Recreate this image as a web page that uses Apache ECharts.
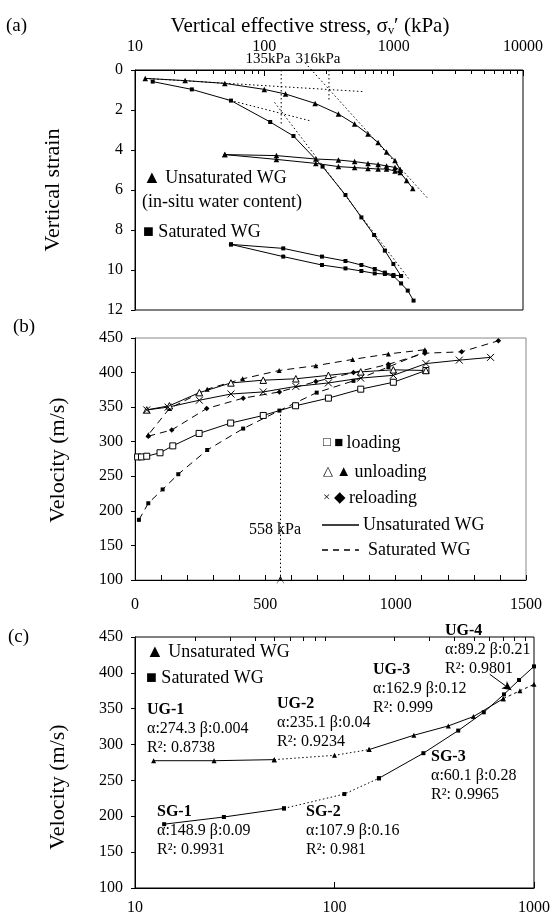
<!DOCTYPE html>
<html>
<head>
<meta charset="utf-8">
<script src="https://cdn.jsdelivr.net/npm/echarts@6/dist/echarts.min.js"></script>
<style>
html,body{margin:0;padding:0;background:#fff;}
#chart{width:557px;height:919px;}
</style>
</head>
<body>
<div id="chart"></div>
<script>
// ---------- (a) vertical strain vs effective stress ----------
var aUnsatLoadS = [12, 24.4, 49.5, 100, 146, 247, 374, 499, 633, 758, 881, 1024, 1124];
var aUnsatLoadE = [0.42, 0.53, 0.67, 0.97, 1.2, 1.67, 2.2, 2.7, 3.2, 3.63, 4.1, 4.53, 5.0];
var aUnsatUnloadS = [1124, 1024, 881, 758, 633, 499, 374, 250, 124, 49.5];
var aUnsatUnloadE = [5.0, 4.87, 4.8, 4.72, 4.67, 4.58, 4.5, 4.45, 4.28, 4.23];
var aUnsatReloadS = [49.5, 124, 250, 374, 499, 633, 758, 881, 1024, 1124, 1260, 1405];
var aUnsatReloadE = [4.23, 4.47, 4.67, 4.83, 4.88, 4.92, 4.95, 4.95, 5.05, 5.13, 5.53, 5.92];

var aSatLoadS = [13.7, 27.5, 55.2, 111, 168, 282, 424, 563, 706, 855, 995, 1141];
var aSatLoadE = [0.58, 0.97, 1.53, 2.6, 3.3, 4.83, 6.25, 7.37, 8.25, 9.03, 9.7, 10.3];
var aSatUnloadS = [1141, 995, 855, 714, 563, 424, 279, 140, 55.2];
var aSatUnloadE = [10.3, 10.25, 10.13, 9.95, 9.75, 9.55, 9.33, 8.92, 8.72];
var aSatReloadS = [55.2, 140, 279, 424, 563, 714, 855, 995, 1141, 1285, 1425];
var aSatReloadE = [8.72, 9.33, 9.75, 9.92, 10.05, 10.17, 10.2, 10.3, 10.67, 11.03, 11.53];

// construction lines for the yield stresses
var aUnsatInitS = [12, 580],  aUnsatInitE = [0.42, 1.08];
var aUnsatVirgS = [207, 1866], aUnsatVirgE = [-0.35, 6.47];
var aSatInitS = [51, 229],    aSatInitE = [1.47, 2.55];
var aSatVirgS = [120, 1303],  aSatVirgE = [1.62, 10.42];
var aYield1S = [135, 135], aYield1E = [0, 2.8];
var aYield2S = [316, 316], aYield2E = [0, 1.6];

// ---------- (b) velocity vs stress ----------
var bUnsatLoadP = [10, 25, 45, 96, 145, 246, 367, 492, 616, 742, 866, 991, 1116];
var bUnsatLoadV = [278, 278, 279, 284, 294, 312, 327, 338, 352, 363, 376, 386, 403];
var bUnsatUnloadP = [1116, 991, 866, 742, 617, 492, 368, 247, 132, 45];
var bUnsatUnloadV = [403, 404, 401, 396, 391, 389, 385, 371, 352, 346];
var bUnsatReloadP = [45, 127, 247, 368, 492, 617, 742, 866, 991, 1116, 1244, 1364];
var bUnsatReloadV = [346, 350, 360, 369, 372, 380, 385, 392, 396, 413, 418, 422];
var bSatLoadP = [15, 51, 106, 166, 277, 415, 554, 697, 838, 972, 1112];
var bSatLoadV = [187, 211, 231, 253, 288, 319, 345, 371, 388, 408, 430];
var bSatUnloadP = [1112, 972, 835, 694, 553, 413, 277, 132, 51];
var bSatUnloadV = [433, 427, 419, 410, 403, 391, 376, 348, 310];
var bSatReloadP = [51, 141, 275, 415, 554, 694, 838, 972, 1112, 1253, 1394];
var bSatReloadV = [308, 317, 348, 363, 372, 387, 400, 412, 428, 430, 446];
var bMarkP = 558, bMarkV = [345, 100];

// ---------- (c) velocity vs stress, fitted segments ----------
var cUG1P = [12.4, 24.9, 49.9],          cUG1V = [277.5, 277.5, 279];
var cUG2P = [49.9, 100, 149],            cUG2V = [279, 285, 293];
var cUG3P = [149, 250, 372, 497, 701],   cUG3V = [293, 313, 326, 339, 364];
var cUG4P = [701, 850, 1000],            cUG4V = [364, 375, 384];
var cSG1P = [14, 27.9, 55.8],            cSG1V = [189, 199, 211];
var cSG2P = [55.8, 112, 167],            cSG2V = [211, 231, 253];
var cSG3P = [167, 279, 417, 560, 707, 841, 1000], cSG3V = [253, 288, 319.5, 345, 370, 390, 409];
var cArrowFrom = [600, 398], cArrowTo = [770, 376];

var FONT = '"Liberation Serif", "Times New Roman", serif';

function pts(xs, ys) {
  return xs.map(function (x, i) { return [x, ys[i]]; });
}
// log10 positions of the 2..9 minor ticks between decades
function minorLog(lo, hi) {
  var out = [];
  for (var d = lo; d < hi; d++)
    for (var k = 2; k <= 9; k++) out.push(d + Math.log10(k));
  return out;
}

var chart = echarts.init(document.getElementById('chart'));

var lbl = { color: '#000', fontFamily: FONT, fontSize: 16, formatter: function (v) { return String(v); } };
var blk = { color: '#000', width: 1 };

function line(name, data, xi, opt) {
  var s = {
    type: 'line', name: name, data: data, xAxisIndex: xi, yAxisIndex: opt.yi,
    symbol: opt.symbol || 'none', symbolSize: opt.size || 5, showSymbol: !!opt.symbol,
    lineStyle: { color: '#000', width: 1, type: opt.ltype || 'solid' },
    itemStyle: opt.item || { color: '#000' },
    animation: false, silent: true, z: opt.z || 3
  };
  if (opt.clip === false) s.clip = false;
  return s;
}

var openItem = { color: '#fff', borderColor: '#000', borderWidth: 1 };
var crossSym = 'path://M0,0L10,10M10,0L0,10';
var crossItem = { color: 'none', borderColor: '#000', borderWidth: 1 };
var dotted = [1.5, 2.5];
var dashed = [7, 5];

var series = [
  // (a)
  line('a-unsat', pts(aUnsatLoadS, aUnsatLoadE).concat(pts(aUnsatUnloadS, aUnsatUnloadE), pts(aUnsatReloadS, aUnsatReloadE)), 0, { yi: 0, symbol: 'triangle', size: 5.5 }),
  line('a-sat', pts(aSatLoadS, aSatLoadE).concat(pts(aSatUnloadS, aSatUnloadE), pts(aSatReloadS, aSatReloadE)), 0, { yi: 0, symbol: 'rect', size: 4 }),
  line('a-ui', pts(aUnsatInitS, aUnsatInitE), 0, { yi: 0, ltype: dotted }),
  line('a-uv', pts(aUnsatVirgS, aUnsatVirgE), 0, { yi: 0, ltype: dotted, clip: false }),
  line('a-si', pts(aSatInitS, aSatInitE), 0, { yi: 0, ltype: dotted }),
  line('a-sv', pts(aSatVirgS, aSatVirgE), 0, { yi: 0, ltype: dotted }),
  line('a-y1', pts(aYield1S, aYield1E), 0, { yi: 0, ltype: dotted }),
  line('a-y2', pts(aYield2S, aYield2E), 0, { yi: 0, ltype: dotted }),
  // (b)
  line('b-ul', pts(bUnsatLoadP, bUnsatLoadV), 2, { yi: 1, symbol: 'rect', size: 6, item: openItem, z: 4 }),
  line('b-uu', pts(bUnsatUnloadP, bUnsatUnloadV), 2, { yi: 1, symbol: 'triangle', size: 6.5, item: openItem, z: 4 }),
  line('b-ur', pts(bUnsatReloadP, bUnsatReloadV), 2, { yi: 1, symbol: crossSym, size: 7, item: crossItem, z: 4 }),
  line('b-sl', pts(bSatLoadP, bSatLoadV), 2, { yi: 1, symbol: 'rect', size: 4, ltype: dashed }),
  line('b-su', pts(bSatUnloadP, bSatUnloadV), 2, { yi: 1, symbol: 'triangle', size: 5, ltype: dashed }),
  line('b-sr', pts(bSatReloadP, bSatReloadV), 2, { yi: 1, symbol: 'diamond', size: 5.5, ltype: dashed }),
  {
    type: 'line', xAxisIndex: 2, yAxisIndex: 1, data: [], silent: true, animation: false,
    markLine: {
      silent: true, animation: false, symbol: ['none', 'path://M0,0L5,10L10,0L5,7Z'], symbolSize: [8, 9],
      lineStyle: { color: '#000', width: 1, type: dotted }, label: { show: false },
      data: [[{ coord: [bMarkP, bMarkV[0]] }, { coord: [bMarkP, bMarkV[1]] }]]
    }
  },
  // (c)
  line('c-ug1', pts(cUG1P, cUG1V), 3, { yi: 2, symbol: 'triangle', size: 5 }),
  line('c-ug2', pts(cUG2P, cUG2V), 3, { yi: 2, symbol: 'triangle', size: 5, ltype: dotted }),
  line('c-ug3', pts(cUG3P, cUG3V), 3, { yi: 2, symbol: 'triangle', size: 5 }),
  line('c-ug4', pts(cUG4P, cUG4V), 3, { yi: 2, symbol: 'triangle', size: 5, ltype: [3, 3] }),
  line('c-sg1', pts(cSG1P, cSG1V), 3, { yi: 2, symbol: 'rect', size: 4 }),
  line('c-sg2', pts(cSG2P, cSG2V), 3, { yi: 2, symbol: 'rect', size: 4, ltype: dotted }),
  line('c-sg3', pts(cSG3P, cSG3V), 3, { yi: 2, symbol: 'rect', size: 4 }),
  {
    type: 'line', xAxisIndex: 3, yAxisIndex: 2, data: [], silent: true, animation: false,
    markLine: {
      silent: true, animation: false, symbol: ['none', 'arrow'], symbolSize: [7, 9],
      lineStyle: { color: '#000', width: 1, type: 'solid' }, label: { show: false },
      data: [[{ coord: cArrowFrom }, { coord: cArrowTo }]]
    }
  }
];

function txt(x, y, text, size, extra, rot) {
  var st = { text: text, x: 0, y: 0, font: (size || 18) + 'px ' + FONT, fill: '#000',
             textAlign: 'left', textVerticalAlign: 'middle' };
  if (extra) for (var k in extra) st[k] = extra[k];
  return { type: 'text', x: x, y: y, rotation: rot || 0, style: st, silent: true, z: 10 };
}
// legend row of panel (b): small open glyph, filled glyph, then the word
function legRow(x, y, open, filled, word) {
  return {
    type: 'text', silent: true, z: 10, x: x, y: y,
    style: {
      x: 0, y: 0, textAlign: 'left', textVerticalAlign: 'middle',
      text: '{s|' + open + '} {f|' + filled + '} {w|' + word + '}',
      rich: {
        s: { fontFamily: FONT, fontSize: 13, fill: '#000' },
        f: { fontFamily: FONT, fontSize: 15, fill: '#000' },
        w: { fontFamily: FONT, fontSize: 18, fill: '#000' }
      }
    }
  };
}
function block(x, y, head, l1, l2) {
  return {
    type: 'text', silent: true, z: 10, x: x, y: y,
    style: {
      x: 0, y: 0, textAlign: 'left', textVerticalAlign: 'top',
      text: '{h|' + head + '}\n{n|' + l1 + '}\n{n|' + l2 + '}',
      rich: {
        h: { fontFamily: FONT, fontSize: 16, fontWeight: 'bold', lineHeight: 19, fill: '#000' },
        n: { fontFamily: FONT, fontSize: 16, lineHeight: 19, fill: '#000' }
      }
    }
  };
}
function hline(x1, x2, y, dash) {
  return { type: 'line', shape: { x1: x1, y1: y, x2: x2, y2: y }, silent: true,
           style: { stroke: '#000', lineWidth: 1.3, lineDash: dash || null } };
}

var graphic = [
  txt(6, 26, '(a)', 19),
  txt(310, 26, 'Vertical effective stress, σᵥ′ (kPa)', 21, { textAlign: 'center' }),
  txt(13, 327, '(b)', 19),
  txt(8, 637, '(c)', 19),
  txt(53, 190, 'Vertical strain', 22, { textAlign: 'center' }, Math.PI / 2),
  txt(58, 460, 'Velocity (m/s)', 22, { textAlign: 'center' }, Math.PI / 2),
  txt(58, 787, 'Velocity (m/s)', 22, { textAlign: 'center' }, Math.PI / 2),
  // (a) legend
  txt(143, 178, '▲ Unsaturated WG', 18),
  txt(142, 202, '(in-situ water content)', 18),
  txt(143, 232, '■ Saturated WG', 18),
  txt(268, 59, '135kPa', 15, { textAlign: 'center' }),
  txt(318, 59, '316kPa', 15, { textAlign: 'center' }),
  // (b) legend
  legRow(323, 443, '□', '■', 'loading'),
  legRow(323, 472, '△', '▲', 'unloading'),
  legRow(323, 498, '×', '◆', 'reloading'),
  hline(322, 359, 525),
  txt(363, 525, 'Unsaturated WG', 18),
  hline(322, 359, 550, [6, 5]),
  txt(368, 550, 'Saturated WG', 18),
  txt(275, 530, '558 kPa', 16, { textAlign: 'center' }),
  // (c) legend and fit labels
  txt(146, 652, '▲ Unsaturated WG', 18),
  txt(146, 678, '■ Saturated WG', 18),
  block(147, 700, 'UG-1', 'α:274.3 β:0.004', 'R²: 0.8738'),
  block(277, 694, 'UG-2', 'α:235.1 β:0.04', 'R²: 0.9234'),
  block(373, 660, 'UG-3', 'α:162.9 β:0.12', 'R²: 0.999'),
  block(445, 621, 'UG-4', 'α:89.2 β:0.21', 'R²: 0.9801'),
  block(157, 802, 'SG-1', 'α:148.9 β:0.09', 'R²: 0.9931'),
  block(306, 802, 'SG-2', 'α:107.9 β:0.16', 'R²: 0.981'),
  block(431, 747, 'SG-3', 'α:60.1 β:0.28', 'R²: 0.9965')
];

var option = {
  backgroundColor: '#fff',
  animation: false,
  grid: [
    { left: 135, top: 70, width: 388, height: 240, show: true, borderColor: '#000', borderWidth: 1 },
    { left: 135, top: 338, width: 391, height: 242, show: true, borderColor: '#888', borderWidth: 1 },
    { left: 135, top: 637, width: 399, height: 251, show: true, borderColor: '#000', borderWidth: 1 }
  ],
  xAxis: [
    { type: 'log', logBase: 10, min: 10, max: 10000, gridIndex: 0, position: 'top',
      axisLine: { lineStyle: blk }, axisTick: { inside: true, length: 6, lineStyle: blk },
      axisLabel: Object.assign({}, lbl, { margin: 15 }), splitLine: { show: false } },
    { type: 'value', min: 1, max: 4, gridIndex: 0, position: 'top',
      axisLine: { show: false }, axisLabel: { show: false }, splitLine: { show: false },
      axisTick: { inside: true, length: 4, lineStyle: blk, customValues: minorLog(1, 4) } },
    { type: 'value', min: 0, max: 1500, interval: 500, gridIndex: 1,
      axisLine: { lineStyle: blk }, axisTick: { inside: true, length: 5, lineStyle: blk },
      minorTick: { show: true, splitNumber: 5, length: 5, lineStyle: blk },
      axisLabel: Object.assign({}, lbl, { margin: 17 }), splitLine: { show: false } },
    { type: 'log', logBase: 10, min: 10, max: 1000, gridIndex: 2,
      axisLine: { lineStyle: blk }, axisTick: { inside: true, length: 6, lineStyle: blk },
      axisLabel: Object.assign({}, lbl, { margin: 12 }), splitLine: { show: false } },
    { type: 'value', min: 1, max: 3, gridIndex: 2,
      axisLine: { show: false }, axisLabel: { show: false }, splitLine: { show: false },
      axisTick: { inside: true, length: 4, lineStyle: blk, customValues: minorLog(1, 3) } }
  ],
  yAxis: [
    { type: 'value', inverse: true, min: 0, max: 12, interval: 2, gridIndex: 0,
      axisLine: { lineStyle: blk }, axisTick: { length: 4, lineStyle: blk },
      axisLabel: Object.assign({}, lbl, { margin: 12 }), splitLine: { show: false } },
    { type: 'value', min: 100, max: 450, interval: 50, gridIndex: 1,
      axisLine: { lineStyle: blk }, axisTick: { length: 4, lineStyle: blk },
      axisLabel: Object.assign({}, lbl, { margin: 12 }), splitLine: { show: false } },
    { type: 'value', min: 100, max: 450, interval: 50, gridIndex: 2,
      axisLine: { lineStyle: blk }, axisTick: { length: 4, lineStyle: blk },
      axisLabel: Object.assign({}, lbl, { margin: 12 }), splitLine: { show: false } }
  ],
  series: series,
  graphic: graphic
};

chart.setOption(option);
</script>
</body>
</html>
